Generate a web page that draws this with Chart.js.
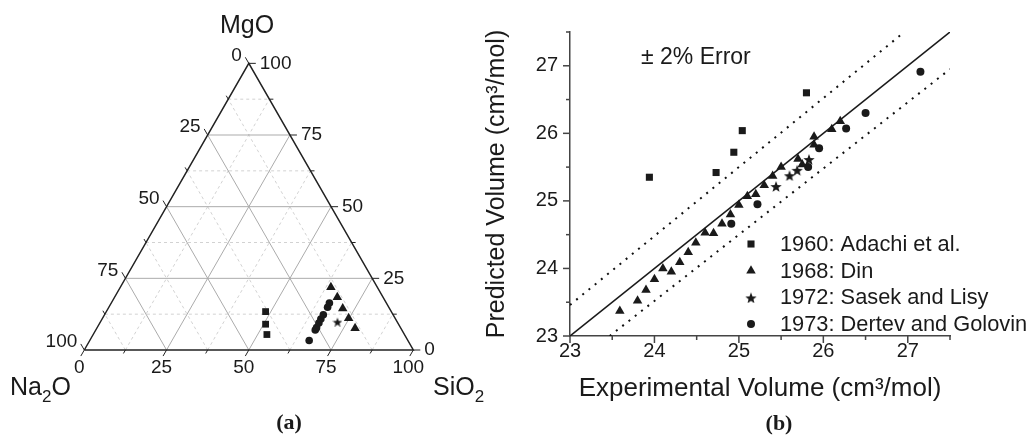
<!DOCTYPE html>
<html lang="en">
<head>
<meta charset="UTF-8" />
<title>Na2O-MgO-SiO2 molar volume</title>
<script src="https://cdn.jsdelivr.net/npm/chart.js"></script>
<style>
  body { margin: 0; background: #fff; }
  .panel { position: absolute; top: 0; height: 441px; }
  #ternaryBox { left: 0; width: 500px; }
  #volumeBox { left: 440px; width: 590px; }
</style>
</head>
<body>
<div class="panel" id="ternaryBox"><canvas id="ternary"></canvas></div>
<div class="panel" id="volumeBox"><canvas id="volume"></canvas></div>
<script>
// (a) compositions, mol % (Na2O is the remainder)
const adachiSiO2 = [48.4, 50.6, 52.8];
const adachiMgO = [13.4, 9.0, 5.4];
const dinSiO2 = [64.0, 67.7, 71.3, 74.8, 78.5];
const dinMgO = [21.9, 18.4, 14.5, 11.1, 7.6];
const sasekSiO2 = [72.0];
const sasekMgO = [9.9];
const dertevSiO2 = [66.7, 66.7, 66.7, 66.6, 66.5, 66.5, 66.5, 66.3];
const dertevMgO = [3.3, 7.0, 7.8, 9.4, 10.8, 12.3, 14.9, 16.4];
const ternTicks = [0, 25, 50, 75, 100];
const ternMinor = [12.5, 37.5, 62.5, 87.5];

// (b) experimental vs predicted volume, cm3/mol
const adachiExp = [23.94, 24.73, 24.94, 25.04, 25.80];
const adachiPred = [25.35, 25.42, 25.72, 26.04, 26.60];
const dinExp = [23.59, 23.80, 23.90, 24.00, 24.10, 24.20, 24.30, 24.40, 24.49, 24.60, 24.70, 24.80, 24.90,
  25.00, 25.10, 25.20, 25.30, 25.40, 25.50, 25.70, 25.75, 25.89, 25.89, 26.10, 26.20];
const dinPred = [23.37, 23.52, 23.68, 23.84, 24.00, 23.95, 24.09, 24.24, 24.38, 24.53, 24.52, 24.66, 24.80,
  24.94, 25.07, 25.10, 25.23, 25.37, 25.50, 25.62, 25.54, 25.95, 25.83, 26.06, 26.18];
const sasekExp = [25.44, 25.60, 25.69, 25.83];
const sasekPred = [25.22, 25.38, 25.46, 25.62];
const dertevExp = [24.91, 25.22, 25.82, 25.95, 26.27, 26.50, 27.15];
const dertevPred = [24.66, 24.95, 25.50, 25.78, 26.07, 26.30, 26.91];
const parityX = [23, 27.5];
const parityY = [23, 27.5];
const upperX = [23, 26.96];
const upperY = [23.46, 27.5];
const lowerX = [23.47, 27.5];
const lowerY = [23, 26.95];
const seriesNames = ['1960: Adachi et al.', '1968: Din', '1972: Sasek and Lisy', '1973: Dertev and Golovin'];

const FONT = '"Liberation Sans", Arial, sans-serif';
const INK = '#1a1a1a';
Chart.defaults.font.family = FONT;
Chart.defaults.color = INK;

const SQ = Math.sqrt(3) / 2;
const tern = (s, m) => ({ x: s + m / 2, y: m * SQ });
const ternSeries = (sArr, mArr) => sArr.map((s, i) => tern(s, mArr[i]));
const pairs = (xs, ys) => xs.map((x, i) => ({ x: x, y: ys[i] }));

function starImage(size) {
  const c = document.createElement('canvas');
  c.width = c.height = size;
  const g = c.getContext('2d');
  const r = size / 2, ri = r * 0.42;
  g.beginPath();
  for (let i = 0; i < 10; i++) {
    const a = -Math.PI / 2 + i * Math.PI / 5;
    const rr = i % 2 ? ri : r;
    g.lineTo(r + rr * Math.cos(a), r + 1 + rr * Math.sin(a));
  }
  g.closePath();
  g.fillStyle = INK;
  g.fill();
  return c;
}
const starSmall = starImage(10);
const starBig = starImage(12);

// text with subscript pieces, e.g. Na2O
function subText(ctx, parts, x, y, size) {
  let cx = x;
  ctx.textAlign = 'left';
  ctx.textBaseline = 'alphabetic';
  parts.forEach(([t, sub]) => {
    ctx.font = (sub ? size * 0.68 : size) + 'px ' + FONT;
    ctx.fillText(t, cx, sub ? y + 7 : y);
    cx += ctx.measureText(t).width;
  });
}

// ---------- (a) ternary ----------
function gridLines(values, dashed) {
  const sets = [];
  values.forEach(v => {
    const lines = [
      [tern(0, v), tern(100 - v, v)],         // MgO = v
      [tern(v, 0), tern(v, 100 - v)],         // SiO2 = v
      [tern(100 - v, 0), tern(0, 100 - v)]    // Na2O = v
    ];
    lines.forEach(l => sets.push({
      data: l, showLine: true, pointRadius: 0, order: dashed ? 4 : 3,
      borderColor: dashed ? '#d2d2d2' : '#ababab', borderWidth: 1,
      borderDash: dashed ? [3, 3] : []
    }));
  });
  return sets;
}

const ternaryAxes = {
  id: 'ternaryAxes',
  afterDatasetsDraw(chart) {
    const { ctx, scales: { x, y } } = chart;
    const P = (s, m) => { const t = tern(s, m); return [x.getPixelForValue(t.x), y.getPixelForValue(t.y)]; };
    ctx.save();
    ctx.strokeStyle = '#222';
    ctx.lineWidth = 1;
    const tick = (p, dx, dy, len) => {
      ctx.beginPath(); ctx.moveTo(p[0], p[1]); ctx.lineTo(p[0] + dx * len, p[1] + dy * len); ctx.stroke();
    };
    ternTicks.concat(ternMinor).forEach(v => {
      const len = v % 25 === 0 ? 7 : 4;
      tick(P(v, 0), -0.5, SQ, len);        // SiO2 along base
      tick(P(0, 100 - v), -0.5, -SQ, len); // Na2O along left side
      tick(P(100 - v, v), 1, 0, len);      // MgO along right side
    });
    ctx.fillStyle = INK;
    ctx.font = '19px ' + FONT;
    ctx.textBaseline = 'middle';
    ternTicks.forEach(v => {
      let p = P(v, 0);
      ctx.textAlign = 'center'; ctx.fillText(String(v), p[0] - 5, p[1] + 18);
      p = P(0, 100 - v);
      ctx.textAlign = 'right'; ctx.fillText(String(v), p[0] - 7, p[1] - 8);
      p = P(100 - v, v);
      ctx.textAlign = 'left'; ctx.fillText(String(v), p[0] + 11, p[1]);
    });
    ctx.font = '25px ' + FONT;
    ctx.textAlign = 'center';
    ctx.fillText('MgO', 247, 26);
    subText(ctx, [['Na', false], ['2', true], ['O', false]], 10, 395, 25);
    subText(ctx, [['SiO', false], ['2', true]], 433, 395, 25);
    ctx.font = 'bold 22px "Liberation Serif", "Times New Roman", serif';
    ctx.textAlign = 'center';
    ctx.textBaseline = 'middle';
    ctx.fillText('(a)', 289, 423);
    ctx.restore();
  }
};

new Chart(document.getElementById('ternary'), {
  type: 'scatter',
  data: {
    datasets: [
      { data: ternSeries(adachiSiO2, adachiMgO), pointStyle: 'rect', pointRadius: 4.8, backgroundColor: INK, borderWidth: 0, order: 0, clip: false },
      { data: ternSeries(dinSiO2, dinMgO), pointStyle: 'triangle', pointRadius: 5.5, backgroundColor: INK, borderWidth: 0, order: 0, clip: false },
      { data: ternSeries(sasekSiO2, sasekMgO), pointStyle: starSmall, order: 0, clip: false },
      { data: ternSeries(dertevSiO2, dertevMgO), pointStyle: 'circle', pointRadius: 3.8, backgroundColor: INK, borderWidth: 0, order: 0, clip: false },
      { data: [tern(0, 0), tern(100, 0), tern(0, 100), tern(0, 0)], showLine: true, pointRadius: 0,
        borderColor: '#222', borderWidth: 1.5, order: 1, clip: false }
    ].concat(gridLines([25, 50, 75], false), gridLines(ternMinor, true))
  },
  options: {
    responsive: true, maintainAspectRatio: false, animation: false,
    layout: { padding: 0, autoPadding: false },
    plugins: { legend: { display: false }, tooltip: { enabled: false } },
    scales: {
      x: { type: 'linear', display: false, min: -84.3 / 3.29, max: (500 - 84.3) / 3.29 },
      y: { type: 'linear', display: false, min: -91 / 3.31, max: 350 / 3.31 }
    }
  },
  plugins: [ternaryAxes]
});

// ---------- (b) parity plot ----------
const volumeExtras = {
  id: 'volumeExtras',
  afterDraw(chart) {
    const { ctx, chartArea: a, scales: { x, y } } = chart;
    ctx.save();
    ctx.strokeStyle = '#444';
    ctx.lineWidth = 1.5;
    x.ticks.forEach(t => {
      const px = x.getPixelForValue(t.value), len = Number.isInteger(t.value) ? 7 : 4;
      ctx.beginPath(); ctx.moveTo(px, a.bottom); ctx.lineTo(px, a.bottom + len); ctx.stroke();
    });
    y.ticks.forEach(t => {
      const py = y.getPixelForValue(t.value), len = Number.isInteger(t.value) ? 7 : 4;
      ctx.beginPath(); ctx.moveTo(a.left, py); ctx.lineTo(a.left - len, py); ctx.stroke();
    });
    ctx.fillStyle = INK;
    ctx.font = '23px ' + FONT;
    ctx.textAlign = 'left';
    ctx.textBaseline = 'middle';
    ctx.fillText('± 2% Error', 201, 58);

    // legend
    const styles = [
      { pointStyle: 'rect', radius: 5 },
      { pointStyle: 'triangle', radius: 5.5 },
      { pointStyle: starBig, radius: 6 },
      { pointStyle: 'circle', radius: 4 }
    ];
    ctx.font = '21.8px ' + FONT;
    seriesNames.forEach((name, i) => {
      const yy = 244 + i * 26.7;
      ctx.fillStyle = INK;
      Chart.helpers.drawPoint(ctx, Object.assign({ rotation: 0, borderWidth: 0 }, styles[i]), 311, yy);
      ctx.fillStyle = INK;
      ctx.fillText(name, 340, yy + 1);
    });
    ctx.font = 'bold 22px "Liberation Serif", "Times New Roman", serif';
    ctx.textAlign = 'center';
    ctx.fillText('(b)', 339, 424);
    ctx.restore();
  }
};

const tickCb = v => Number.isInteger(v) ? String(v) : '';

new Chart(document.getElementById('volume'), {
  type: 'scatter',
  data: {
    datasets: [
      { label: seriesNames[0], data: pairs(adachiExp, adachiPred), pointStyle: 'rect', pointRadius: 5, backgroundColor: INK, borderWidth: 0 },
      { label: seriesNames[1], data: pairs(dinExp, dinPred), pointStyle: 'triangle', pointRadius: 5.5, backgroundColor: INK, borderWidth: 0 },
      { label: seriesNames[2], data: pairs(sasekExp, sasekPred), pointStyle: starBig },
      { label: seriesNames[3], data: pairs(dertevExp, dertevPred), pointStyle: 'circle', pointRadius: 4, backgroundColor: INK, borderWidth: 0 },
      { data: pairs(parityX, parityY), showLine: true, pointRadius: 0, borderColor: INK, borderWidth: 1.6 },
      { data: pairs(upperX, upperY), showLine: true, pointRadius: 0, borderColor: '#111', borderWidth: 2, borderDash: [2, 6] },
      { data: pairs(lowerX, lowerY), showLine: true, pointRadius: 0, borderColor: '#111', borderWidth: 2, borderDash: [2, 6] }
    ]
  },
  options: {
    responsive: true, maintainAspectRatio: false, animation: false,
    layout: { padding: { left: 0, right: 80, top: 32, bottom: 0 }, autoPadding: false },
    plugins: { legend: { display: false }, tooltip: { enabled: false } },
    scales: {
      x: {
        type: 'linear', min: 23, max: 27.5,
        grid: { display: false, drawTicks: false },
        border: { display: true, color: '#444', width: 1.5 },
        ticks: { stepSize: 0.5, autoSkip: false, maxRotation: 0, padding: 3, color: INK, font: { size: 20 }, callback: tickCb },
        title: { display: true, text: 'Experimental Volume (cm³/mol)', color: INK, font: { size: 26 }, padding: { top: 0, bottom: 37 } },
        afterFit: s => { s.height = 105; }
      },
      y: {
        type: 'linear', min: 23, max: 27.5,
        grid: { display: false, drawTicks: false },
        border: { display: true, color: '#444', width: 1.5 },
        ticks: { stepSize: 0.5, autoSkip: false, padding: 12, color: INK, font: { size: 20 }, callback: tickCb },
        title: { display: true, text: 'Predicted Volume (cm³/mol)', color: INK, font: { size: 25 }, padding: { top: 42, bottom: 0 } },
        afterFit: s => { s.width = 130; }
      }
    }
  },
  plugins: [volumeExtras]
});
</script>
</body>
</html>
